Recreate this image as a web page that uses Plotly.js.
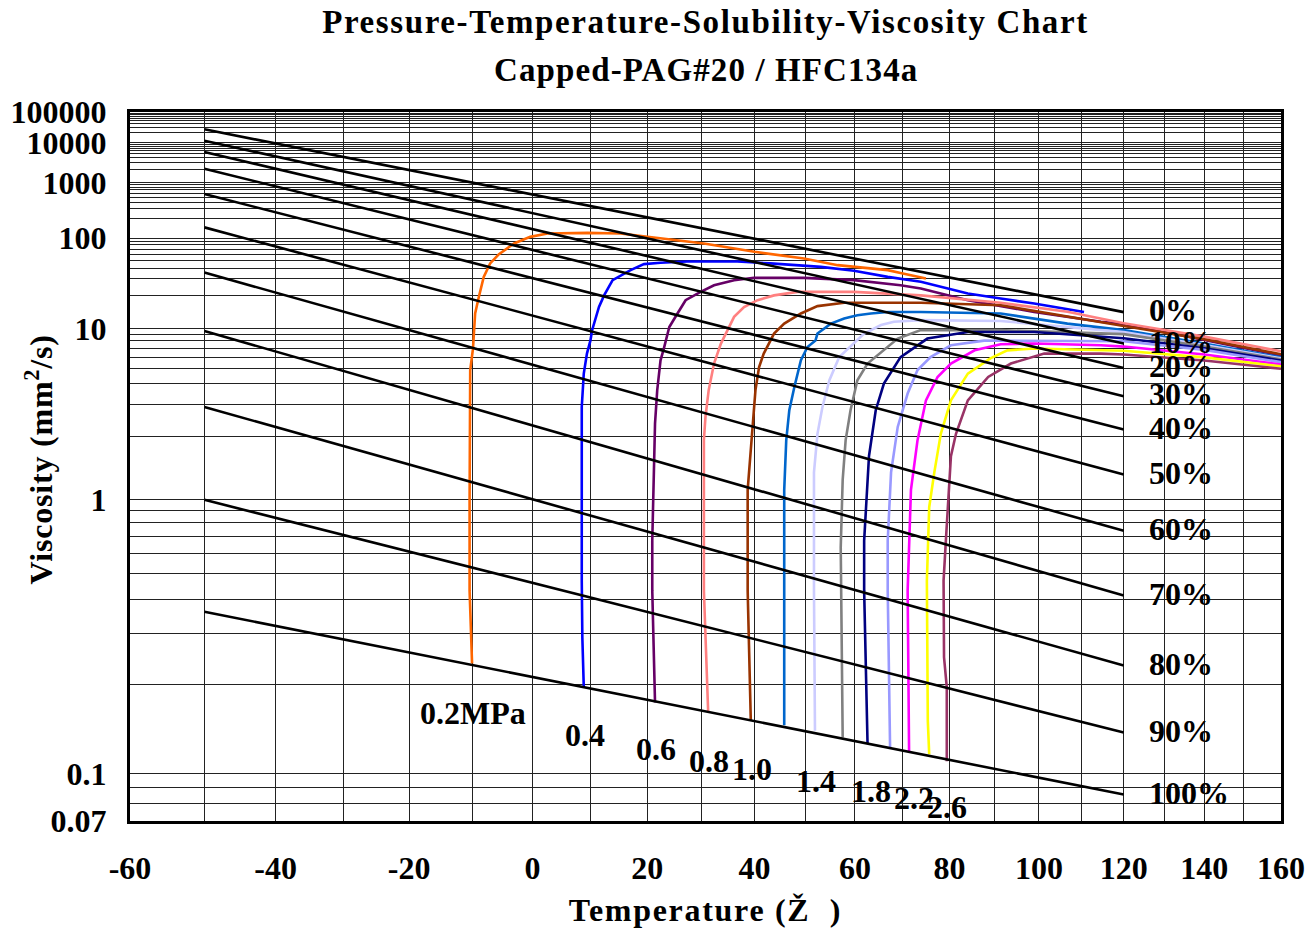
<!DOCTYPE html>
<html>
<head>
<meta charset="utf-8">
<script src="https://cdn.plot.ly/plotly-3.0.1.min.js"></script>
<style>html,body{margin:0;padding:0;background:#fff;}</style>
</head>
<body>
<div id="chart" style="width:1311px;height:931px;"></div>
<script>
// ---------- DATA ----------
// Solubility (wt% refrigerant) lines: viscosity (mm2/s) at -50 C and 120 C
const solubilityLabels = ['0%','10%','20%','30%','40%','50%','60%','70%','80%','90%','100%'];
const solLineTemps = [-50, 120];
const viscAtMinus50 = [25700, 11500, 5500, 2060, 573, 146, 35.5, 9.55, 2.89, 1.00, 0.361];
const viscAt120 = [13.9, 7.59, 5.06, 3.34, 2.17, 1.30, 0.74, 0.414, 0.232, 0.137, 0.0854];

// Isobars (pressure, MPa): temperature (C) and viscosity (mm2/s)
const pressures = ['0.2','0.4','0.6','0.8','1.0','1.2','1.4','1.6','1.8','2.0','2.2','2.4','2.6'];
const isobarColors = ['#FF6600','#0000FF','#660066','#FF8080','#993300','#0066CC','#CCCCFF','#808080','#000080','#9999FF','#FF00FF','#FFFF00','#993366'];

const p02T = [-10.0,-10.4,-10.4,-10.3,-10.3,-9.85,-9.5,-8.9,-8.1,-7.05,-5.6,-3.1,-0.4,2.5,9.4,15.2,20.0,30.4,40.0,49.7,56.5,66.8,69.5,74.9];
const p02V = [0.236,0.432,0.99,3.16,4.88,6.96,13.5,19.4,31.7,45.7,60,84,104.6,117.6,120,117.6,104.6,84,64.4,52.8,43.5,37.9,35.1,30.4];

const p04T = [8.75,8.5,8.4,8.4,8.4,8.75,9.3,9.9,10.2,11.4,12.3,13.8,17.0,19.4,22.4,27.3,36.7,43.1,53.1,59.8,66.8,73.8,76.6,84.0,91.3,98.9,110.5];
const p04V = [0.195,0.292,0.471,0.99,2.89,4.64,6.39,8.0,9.69,15.5,20.1,29.1,37.9,44.8,46.5,48.3,48.3,45.7,41.5,37.2,31.7,27.9,25.6,21.0,18.7,16.7,13.95];

const p06T = [21.4,20.9,20.9,21.2,21.4,21.8,22.4,23.0,24.0,25.5,27.0,29.8,32.3,36.1,39.9,49.7,59.8,69.5,73.8,84.0,98.9,114.5,120,140,160];
const p06V = [0.173,0.432,0.675,1.48,2.34,3.64,5.72,6.96,10.3,13.5,18.0,21.8,25.6,29.1,30.9,30.9,29.1,25.6,23.7,18.0,13.95,11.4,10.9,8.1,6.2];

const p08T = [31.2,30.4,30.4,30.7,31.3,32.3,33.6,34.5,36.1,38.0,40.6,43.8,48.4,59.8,73.8,91.3,106.6,120,140,160];
const p08V = [0.161,0.432,1.91,2.55,3.64,5.43,7.59,9.1,12.6,15.5,18.0,20.1,21.8,21.8,20.1,17.0,14.0,11.1,8.6,6.64];

const p10T = [39.3,38.7,38.7,39.6,40.2,40.9,41.8,43.1,43.8,45.8,49.1,52.4,57.8,73.8,91.3,120,140,160];
const p10V = [0.151,0.432,1.107,2.24,3.64,5.14,6.39,8.0,9.1,11.0,13.5,15.8,17.0,17.0,16.1,10.5,8.2,6.31];

const p12T = [45.8,45.8,45.8,46.2,46.8,47.8,49.1,50.4,52.0,52.4,55.1,57.8,60.5,63.3,66.8,73.8,91.3,106.6,120,140,160];
const p12V = [0.145,0.432,1.107,1.91,2.77,3.81,5.72,7.15,8.0,9.1,11.0,12.2,13.0,13.5,13.95,13.95,13.5,11.0,9.7,7.6,6.0];

const p14T = [51.9,51.7,51.7,52.4,53.4,54.8,56.8,59.4,61.9,65.4,68.1,73.8,91.3,120,140,160];
const p14V = [0.139,0.432,1.33,2.06,2.89,4.20,6.03,7.36,9.1,10.7,11.4,11.8,11.6,9.35,7.4,5.9];

const p16T = [57.5,57.1,57.1,57.5,58.1,59.1,60.5,62.6,66.0,68.9,73.8,91.3,120,140,160];
const p16V = [0.132,0.432,0.635,1.23,1.91,2.77,4.20,5.43,6.75,8.3,9.7,9.7,9.0,7.2,5.8];

const p18T = [62.6,61.9,61.9,62.9,64.3,66.0,69.5,73.1,75.2,84.0,98.9,120,140,160];
const p18V = [0.126,0.432,0.675,1.59,2.77,4.0,6.03,7.36,8.3,9.38,9.38,8.35,7.0,5.7];

const p20T = [67.3,66.8,66.8,67.5,68.9,71.0,73.1,75.9,80.3,87.6,120,140,160];
const p20V = [0.121,0.432,0.675,1.33,2.24,3.47,4.9,6.03,7.36,8.0,7.9,6.8,5.55];

const p22T = [71.3,71.0,71.7,73.1,74.9,77.4,80.3,85.5,91.3,98.9,114.5,120,140,160];
const p22V = [0.119,0.432,1.107,1.91,3.16,4.41,5.43,6.75,7.5,7.6,7.36,7.2,6.3,5.35];

const p24T = [75.6,75.3,75.1,75.6,76.7,78.1,80.3,84.0,89.0,92.8,98.9,114.5,120,140,160];
const p24V = [0.116,0.150,0.47,0.929,1.33,2.06,3.16,4.64,5.9,6.75,6.96,6.75,6.7,6.0,5.2];

const p26T = [79.4,79.4,78.8,78.7,79.2,80.3,81.4,84.0,88.5,93.6,101.2,114.5,120,140,160];
const p26V = [0.110,0.195,0.248,0.471,0.675,1.59,2.06,3.16,4.41,5.43,6.39,6.39,6.3,5.7,5.0];

const isobarT = [p02T,p04T,p06T,p08T,p10T,p12T,p14T,p16T,p18T,p20T,p22T,p24T,p26T];
const isobarV = [p02V,p04V,p06V,p08V,p10V,p12V,p14V,p16V,p18V,p20V,p22V,p24V,p26V];

// Pressure labels under the 100% line
const pLabelText = ['0.2MPa','0.4','0.6','0.8','1.0','1.4','1.8','2.2','2.6'];
const pLabelT = [-9.8, 9.0, 21.5, 31.3, 39.6, 52.1, 63.3, 72.3, 79.4];
const pLabelV = [0.159, 0.134, 0.121, 0.110, 0.104, 0.0947, 0.0878, 0.0833, 0.0778];

// Axis ticks
const xGridTemps = [-60,-50,-40,-30,-20,-10,0,10,20,30,40,50,60,70,80,90,100,110,120,130,140,150,160];
const xLabelTemps = [-60,-40,-20,0,20,40,60,80,100,120,140,160];
const yGridVisc = [0.07,0.08,0.09,0.1,0.2,0.3,0.4,0.5,0.6,0.7,0.8,0.9,1,2,3,4,5,6,7,8,9,10,20,30,40,50,60,70,80,90,100,200,300,400,500,600,700,800,900,1000,2000,3000,4000,5000,6000,7000,8000,9000,10000,20000,30000,40000,50000,60000,70000,80000,90000,100000];
const yLabelVisc = [0.07,0.1,1,10,100,1000,10000,100000];

const titleLine1 = 'Pressure-Temperature-Solubility-Viscosity Chart';
const titleLine2 = 'Capped-PAG#20 / HFC134a';

// ---------- SCALES (Walther-type viscosity chart) ----------
const tx = T => Math.log10(T + 273.15);          // log absolute temperature
const vy = v => Math.log10(Math.log10(v + 1));   // log-log viscosity

const FONT = '"Liberation Serif", "Times New Roman", Times, serif';
const bold = (size) => ({family: FONT, size: size, color: '#000', weight: 'bold'});
const spaced = (txt, px) => '<span style="letter-spacing:' + px + 'px">' + txt + '</span>';

const traces = [];
isobarT.forEach((Ts, i) => {
  traces.push({
    type: 'scatter', mode: 'lines', name: pressures[i] + ' MPa',
    x: Ts.map(tx), y: isobarV[i].map(vy),
    line: {color: isobarColors[i], width: 2.6},
    hoverinfo: 'skip'
  });
});
solubilityLabels.forEach((lab, i) => {
  traces.push({
    type: 'scatter', mode: 'lines', name: lab,
    x: solLineTemps.map(tx), y: [viscAtMinus50[i], viscAt120[i]].map(vy),
    line: {color: '#000', width: 2.6},
    hoverinfo: 'skip'
  });
});

const annotations = [];
solubilityLabels.forEach((lab, i) => {
  annotations.push({
    text: lab, x: tx(125.6), y: vy(viscAt120[i]), xref: 'x', yref: 'y',
    xanchor: 'left', yanchor: 'middle', yshift: 2, showarrow: false,
    font: bold(32)
  });
});
pLabelText.forEach((lab, i) => {
  annotations.push({
    text: lab, x: tx(pLabelT[i]), y: vy(pLabelV[i]), xref: 'x', yref: 'y',
    xanchor: 'center', yanchor: 'middle', showarrow: false,
    font: bold(32)
  });
});
// second title line
annotations.push({
  text: spaced(titleLine2, 1.1), xref: 'paper', yref: 'paper', x: 0.5, y: (821 - 70) / 709,
  xanchor: 'center', yanchor: 'middle', showarrow: false, font: bold(33)
});
// y-axis title (placed beside the narrow tick labels, as in the reference)
annotations.push({
  text: spaced('Viscosity (mm<sup>2</sup>/s)', 0.8), textangle: -90,
  xref: 'paper', yref: 'paper', x: -0.079, y: 0.51,
  xanchor: 'center', yanchor: 'middle', showarrow: false,
  font: bold(32)
});

const layout = {
  width: 1311, height: 931,
  margin: {l: 130, r: 30, t: 112, b: 110},
  paper_bgcolor: '#fff', plot_bgcolor: '#fff',
  showlegend: false,
  font: bold(32),
  title: {
    text: spaced(titleLine1, 1.6),
    font: bold(33),
    x: 0.5, xref: 'paper', xanchor: 'center',
    y: 0.989, yref: 'container', yanchor: 'top'
  },
  xaxis: {
    range: [tx(-60), tx(160)],
    tickmode: 'array',
    tickvals: xGridTemps.map(tx),
    ticktext: xGridTemps.map(t => xLabelTemps.includes(t) ? String(t) : ''),
    showgrid: true, gridcolor: '#222', gridwidth: 1,
    zeroline: false, showline: true, mirror: true, linecolor: '#000', linewidth: 3,
    ticks: '', ticklabelstandoff: 17,
    tickfont: bold(32),
    title: {text: spaced('Temperature (Ž&nbsp; )', 1.7), standoff: 14, font: bold(32)}
  },
  yaxis: {
    range: [vy(0.07), vy(100000)],
    tickmode: 'array',
    tickvals: yGridVisc.map(vy),
    ticktext: yGridVisc.map(v => yLabelVisc.includes(v) ? String(v) : ''),
    showgrid: true, gridcolor: '#222', gridwidth: 1,
    zeroline: false, showline: true, mirror: true, linecolor: '#000', linewidth: 3,
    ticks: '', ticklabelstandoff: 14,
    tickfont: bold(32)
  },
  annotations: annotations
};

Plotly.newPlot('chart', traces, layout, {staticPlot: true, displayModeBar: false});
</script>
</body>
</html>
